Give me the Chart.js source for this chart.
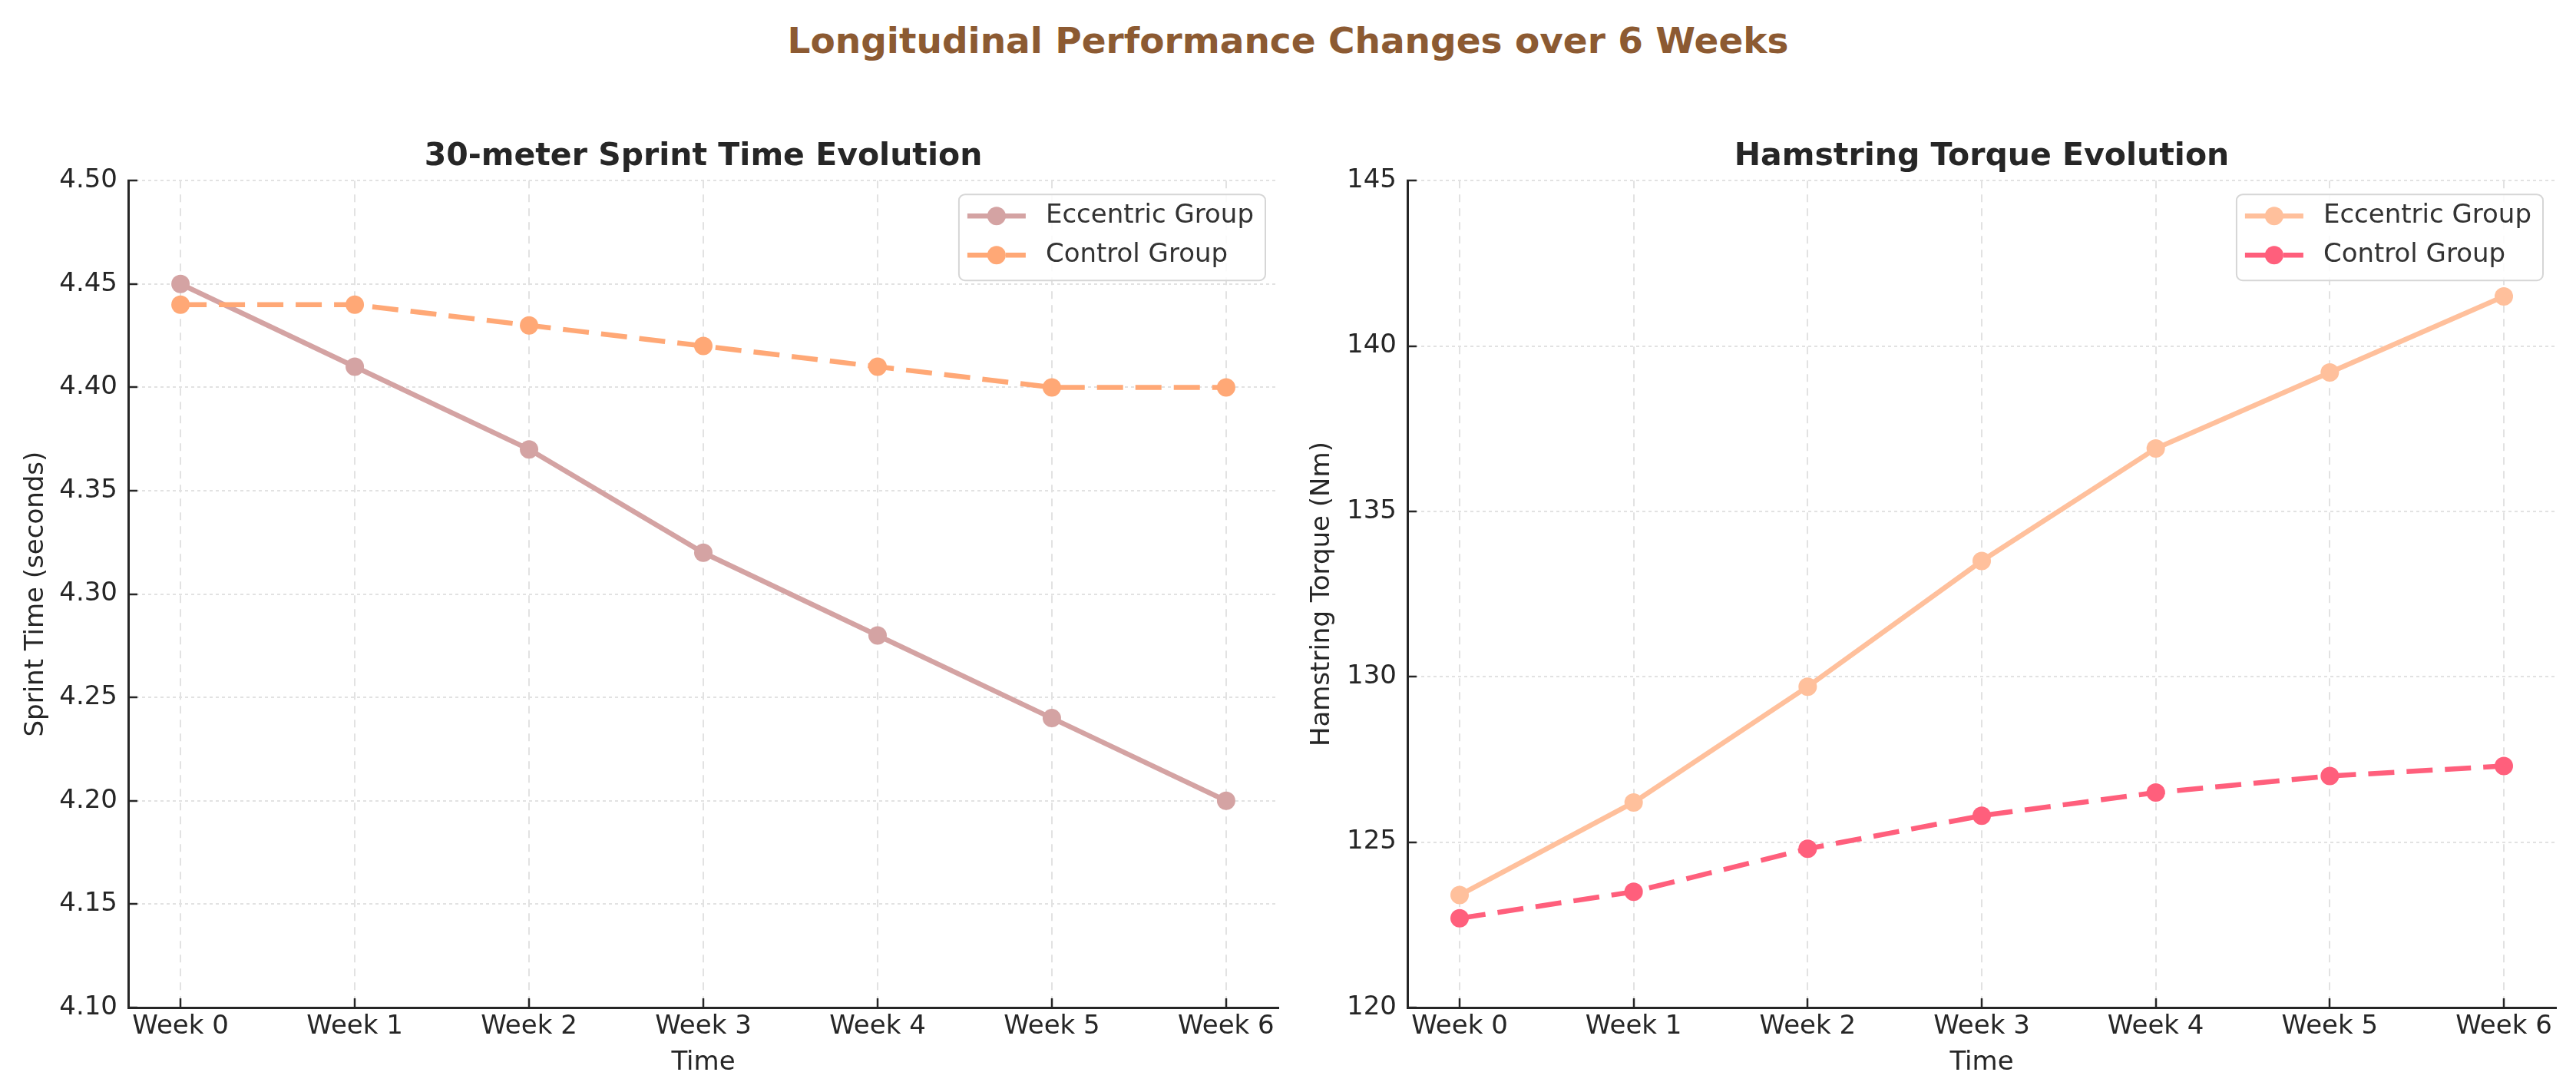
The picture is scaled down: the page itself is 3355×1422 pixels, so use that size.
<!DOCTYPE html>
<html>
<head>
<meta charset="utf-8">
<script src="https://cdn.jsdelivr.net/npm/chart.js@4.4.0/dist/chart.umd.min.js"></script>
<style>
  html, body { margin: 0; padding: 0; background: #fff; }
  body { width: 3355px; height: 1422px; position: relative; overflow: hidden; font-family: 'DejaVu Sans', sans-serif; }
  #mainTitle { position: absolute; left: 0; top: 27px; width: 3355px; text-align: center;
               font-weight: bold; font-size: 47px; line-height: 52px; color: #8c5a32; }
  canvas { position: absolute; top: 0; }
  #sprintCanvas { left: 0; }
  #torqueCanvas { left: 1680px; }
</style>
</head>
<body>
<div id="mainTitle">Longitudinal Performance Changes over 6 Weeks</div>
<canvas id="sprintCanvas" width="1700" height="1422"></canvas>
<canvas id="torqueCanvas" width="1675" height="1422"></canvas>
<script>
// Data
const weeks = ['Week 0', 'Week 1', 'Week 2', 'Week 3', 'Week 4', 'Week 5', 'Week 6'];
const sprintEccentric = [4.45, 4.41, 4.37, 4.32, 4.28, 4.24, 4.20];
const sprintControl = [4.44, 4.44, 4.43, 4.42, 4.41, 4.40, 4.40];
const torqueEccentric = [123.4, 126.2, 129.7, 133.5, 136.9, 139.2, 141.5];
const torqueControl = [122.7, 123.5, 124.8, 125.8, 126.5, 127.0, 127.3];
const sprintTicks = [4.10, 4.15, 4.20, 4.25, 4.30, 4.35, 4.40, 4.45, 4.50];
const torqueTicks = [120, 125, 130, 135, 140, 145];

Chart.defaults.font.family = "'DejaVu Sans', sans-serif";
const textColor = '#262626';

// legend drawn inside the plot, top right (matplotlib style)
const insideLegend = {
    id: 'insideLegend',
    afterDatasetsDraw(chart) {
        const ctx = chart.ctx;
        const area = chart.chartArea;
        const sets = chart.data.datasets;
        ctx.save();
        ctx.font = "34px 'DejaVu Sans'";
        const textW = Math.max(...sets.map(d => ctx.measureText(d.label).width));
        const w = 113 + textW + 15, h = 112;
        const x = area.right - 17 - w, y = area.top + 18;
        ctx.beginPath();
        ctx.roundRect(x, y, w, h, 8);
        ctx.fillStyle = 'rgba(255,255,255,0.85)';
        ctx.fill();
        ctx.strokeStyle = '#d6d6d6';
        ctx.lineWidth = 2;
        ctx.stroke();
        sets.forEach((d, i) => {
            const cy = y + 28 + i * 51;
            ctx.strokeStyle = d.borderColor;
            ctx.lineWidth = d.borderWidth;
            ctx.setLineDash(d.borderDash || []);
            ctx.beginPath();
            ctx.moveTo(x + 11, cy);
            ctx.lineTo(x + 87, cy);
            ctx.stroke();
            ctx.setLineDash([]);
            ctx.fillStyle = d.pointBackgroundColor;
            ctx.beginPath();
            ctx.arc(x + 49, cy, d.pointRadius, 0, Math.PI * 2);
            ctx.fill();
            ctx.fillStyle = '#333';
            ctx.textBaseline = 'middle';
            ctx.textAlign = 'left';
            ctx.fillText(d.label, x + 113, cy);
        });
        ctx.restore();
    }
};

function series(label, values, color, dashed, order) {
    return {
        label: label,
        data: values.map((v, i) => ({ x: i, y: v })),
        borderColor: color,
        backgroundColor: color,
        pointBackgroundColor: color,
        pointBorderWidth: 0,
        pointRadius: 12,
        borderWidth: 6.5,
        borderDash: dashed ? [34, 16] : [],
        tension: 0,
        order: order
    };
}

function makeChart(canvasId, title, yLabel, datasets, yTicks, yFormat, yAxisWidth, rightPad, yTitlePad) {
    return new Chart(document.getElementById(canvasId), {
        type: 'line',
        data: { datasets: datasets },
        options: {
            responsive: false,
            animation: false,
            events: [],
            layout: { padding: { top: 0, left: 0, right: rightPad, bottom: 0 } },
            plugins: {
                legend: { display: false },
                tooltip: { enabled: false },
                title: {
                    display: true,
                    fullSize: false,
                    text: title,
                    color: textColor,
                    font: { size: 41, weight: 'bold' },
                    padding: { top: 180, bottom: 6 }
                }
            },
            scales: {
                x: {
                    type: 'linear',
                    min: -0.3,
                    max: weeks.length - 0.7,
                    afterBuildTicks: s => { s.ticks = weeks.map((w, i) => ({ value: i })); },
                    afterFit: s => { s.height = 110; },
                    ticks: {
                        callback: v => weeks[v],
                        color: textColor,
                        font: { size: 34 },
                        padding: 17,
                        maxRotation: 0,
                        autoSkip: false
                    },
                    grid: {
                        color: '#e2e2e2',
                        lineWidth: 2,
                        tickLength: -12,
                        tickColor: textColor,
                        tickWidth: 2.5,
                        tickBorderDash: []
                    },
                    border: { display: true, color: textColor, width: 3, dash: [10, 8] },
                    title: { display: true, text: 'Time', color: textColor, font: { size: 34 }, padding: 17 }
                },
                y: {
                    type: 'linear',
                    min: yTicks[0],
                    max: yTicks[yTicks.length - 1],
                    afterBuildTicks: s => { s.ticks = yTicks.map(v => ({ value: v })); },
                    afterFit: s => { s.width = yAxisWidth; },
                    ticks: {
                        callback: yFormat,
                        color: textColor,
                        font: { size: 34 },
                        padding: 26
                    },
                    grid: {
                        color: '#e2e2e2',
                        lineWidth: 2,
                        tickLength: -12,
                        tickColor: textColor,
                        tickWidth: 2.5,
                        tickBorderDash: []
                    },
                    border: { display: true, color: textColor, width: 3, dash: [4, 4] },
                    title: { display: true, text: yLabel, color: textColor, font: { size: 34 }, padding: yTitlePad }
                }
            }
        },
        plugins: [insideLegend]
    });
}

makeChart('sprintCanvas', '30-meter Sprint Time Evolution', 'Sprint Time (seconds)', [
    series('Eccentric Group', sprintEccentric, '#d4a3a3', false, 2),
    series('Control Group', sprintControl, '#ffa876', true, 1)
], sprintTicks, v => v.toFixed(2), 167, 35, 27);

makeChart('torqueCanvas', 'Hamstring Torque Evolution', 'Hamstring Torque (Nm)', [
    series('Eccentric Group', torqueEccentric, '#ffc09c', false, 2),
    series('Control Group', torqueControl, '#ff5f7c', true, 1)
], torqueTicks, v => String(v), 153, 26, 22);
</script>
</body>
</html>
